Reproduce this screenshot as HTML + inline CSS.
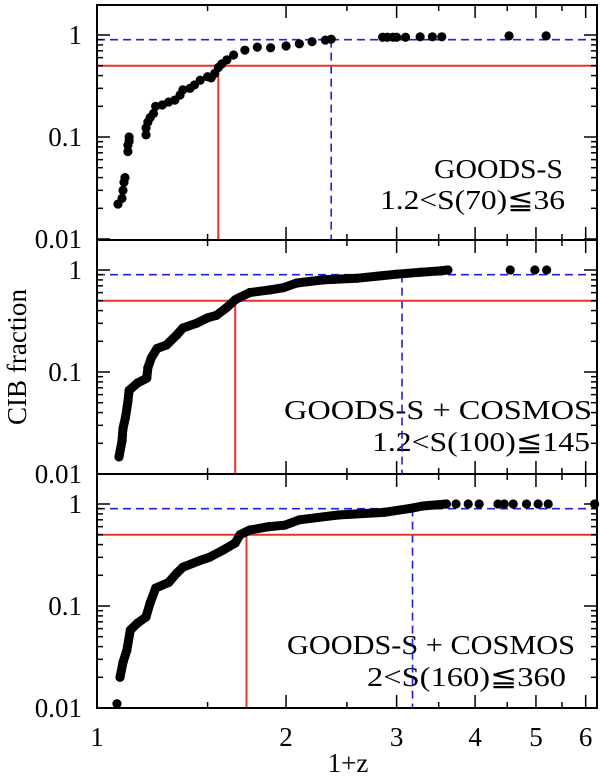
<!DOCTYPE html>
<html><head><meta charset="utf-8"><style>
html,body{margin:0;padding:0;background:#fff;}
svg{display:block;}
text{font-family:"Liberation Serif","DejaVu Serif",serif;fill:#000;}
</style></head><body>
<svg id="chart" width="600" height="776" viewBox="0 0 600 776" xmlns="http://www.w3.org/2000/svg"></svg>
<script>
// ---- data ----
const p1CurveX = [1.08,1.096,1.10,1.104,1.108,1.12,1.12,1.125,1.125,1.197,1.197,1.205,1.215,1.23,1.24,1.27,1.30,1.33,1.356,1.37,1.406,1.43,1.46,1.50,1.52,1.54,1.56,1.58,1.61,1.65,1.72,1.80,1.89,2.0,2.10,2.20,2.31,2.36];
const p1CurveY = [0.022,0.025,0.030,0.036,0.040,0.072,0.083,0.091,0.100,0.105,0.123,0.140,0.155,0.170,0.200,0.206,0.220,0.230,0.258,0.290,0.300,0.324,0.360,0.390,0.380,0.420,0.480,0.520,0.570,0.637,0.710,0.760,0.750,0.780,0.820,0.860,0.890,0.910];
const p1DotsX = [2.85,2.90,2.96,3.0,3.10,3.27,3.42,3.54,4.53,5.19];
const p1DotsY = [0.95,0.95,0.95,0.95,0.95,0.96,0.96,0.96,0.98,0.98];

const p2CurveX = [1.084,1.096,1.10,1.11,1.12,1.125,1.16,1.20,1.205,1.22,1.246,1.29,1.34,1.37,1.44,1.50,1.55,1.61,1.66,1.69,1.75,1.89,1.98,2.08,2.29,2.59,3.0,3.27,3.52,3.62];
const p2CurveY = [0.0147,0.021,0.028,0.036,0.051,0.066,0.078,0.087,0.110,0.137,0.170,0.184,0.231,0.270,0.300,0.340,0.360,0.430,0.510,0.540,0.600,0.640,0.670,0.745,0.800,0.830,0.910,0.950,0.980,1.0];
const p2DotsX = [4.55,4.98,5.20];
const p2DotsY = [1.0,1.0,1.0];

const p3CurveX = [1.088,1.10,1.116,1.13,1.16,1.197,1.215,1.24,1.30,1.34,1.37,1.46,1.51,1.59,1.66,1.69,1.75,1.88,1.99,2.10,2.42,2.87,3.17,3.30,3.60];
const p3CurveY = [0.020,0.028,0.037,0.058,0.068,0.078,0.107,0.150,0.170,0.210,0.240,0.280,0.300,0.355,0.415,0.500,0.555,0.600,0.620,0.700,0.780,0.830,0.910,0.955,1.0];
const p3DotsX = [1.076,3.73,3.90,4.06,4.35,4.45,4.60,4.83,5.04,5.23,6.20];
const p3DotsY = [0.011,1.0,1.0,1.0,1.0,1.0,1.0,1.0,1.0,1.0,1.0];

const medianX = [1.56,1.66,1.73];
const ninetyX = [2.36,3.06,3.18];
const xTickLabels = ["1","2","3","4","5","6"];
const yTickLabels = ["0.01","0.1","1"];

// ---- layout ----
const NS = "http://www.w3.org/2000/svg";
const svg = document.getElementById('chart');
const L = 97, R = 597, XDEC = 628, YDEC = 102;
const tops = [5,240,474];
const bottoms = [240,474,708];
function xs(v){ return L + XDEC*Math.log10(v); }
function ys(v,p){ return tops[p] + 30 - YDEC*Math.log10(v); }
function mk(tag, attrs, parent){
  const e = document.createElementNS(NS, tag);
  for (const k in attrs) e.setAttribute(k, attrs[k]);
  (parent||svg).appendChild(e);
  return e;
}
const panels = [
  {cx:p1CurveX, cy:p1CurveY, dx:p1DotsX, dy:p1DotsY, line:false,
   t1:"GOODS-S", t1x:[434,563], t1y:178, t2:"1.2<S(70)≦36", t2x:[380,565], t2y:209},
  {cx:p2CurveX, cy:p2CurveY, dx:p2DotsX, dy:p2DotsY, line:true,
   t1:"GOODS-S + COSMOS", t1x:[284,592], t1y:419, t2:"1.2<S(100)≦145", t2x:[372,590], t2y:451},
  {cx:p3CurveX, cy:p3CurveY, dx:p3DotsX, dy:p3DotsY, line:true,
   t1:"GOODS-S + COSMOS", t1x:[287,575], t1y:654, t2:"2<S(160)≦360", t2x:[367,566], t2y:686}
];

panels.forEach((P, p) => {
  const g = mk('g', {});
  
  
  const top = tops[p], bot = bottoms[p];
  [[P.t1,P.t1x,P.t1y],[P.t2,P.t2x,P.t2y]].forEach((t,i)=>{
    const tx = mk('text', {x:t[1][0], y:t[2], 'font-size':27, textLength:t[1][1]-t[1][0], lengthAdjust:'spacingAndGlyphs'}, g);
    tx.textContent = t[0];
    
    
  });
  const y90 = ys(0.9,p), y50 = ys(0.5,p);
  const bh = mk('line', {x1:L, x2:R, y1:y90, y2:y90, stroke:'#1f1fe0', 'stroke-width':1.6, 'stroke-dasharray':'8,5'}, g);
  
  
  const bv = mk('line', {x1:xs(ninetyX[p]), x2:xs(ninetyX[p]), y1:y90, y2:bot, stroke:'#1f1fe0', 'stroke-width':1.6, 'stroke-dasharray':'8,5'}, g);
  
  
  const rh = mk('line', {x1:L, x2:R, y1:y50, y2:y50, stroke:'#e8322a', 'stroke-width':2}, g);
  
  
  const rv = mk('line', {x1:xs(medianX[p]), x2:xs(medianX[p]), y1:y50, y2:bot, stroke:'#e8322a', 'stroke-width':2}, g);
  
  
  if (P.line){
    const pts = P.cx.map((v,i)=> xs(v).toFixed(1)+','+ys(P.cy[i],p).toFixed(1)).join(' ');
    const pl = mk('polyline', {points:pts, fill:'none', stroke:'#000', 'stroke-width':9, 'stroke-linejoin':'round', 'stroke-linecap':'round'}, g);
    
    
  }
  P.cx.forEach((v,i)=>{
    const c = mk('circle', {cx:xs(v), cy:ys(P.cy[i],p), r:4.6, fill:'#000'}, g);
    
    
  });
  P.dx.forEach((v,i)=>{
    const c = mk('circle', {cx:xs(v), cy:ys(P.dy[i],p), r:4.6, fill:'#000'}, g);
    
    
  });
  const fr = mk('rect', {x:L, y:top, width:R-L, height:bot-top, fill:'none', stroke:'#000', 'stroke-width':2}, g);
  
  
  for (let v=1; v<=6.2; v+=0.5){
    const major = Math.abs(v-Math.round(v))<1e-6;
    const len = major ? 13 : 6;
    const x = xs(v);
    mk('line', {x1:x, x2:x, y1:bot, y2:bot-len, stroke:'#000', 'stroke-width':1.5}, g);
    mk('line', {x1:x, x2:x, y1:top, y2:top+len, stroke:'#000', 'stroke-width':1.5}, g);
  }
  for (let d=-2; d<=0; d++){
    for (let m=1; m<=9; m++){
      const v = m*Math.pow(10,d);
      if (d===0 && m>1) break;
      const y = ys(v,p);
      const len = m===1 ? 13 : 6;
      mk('line', {x1:L, x2:L+len, y1:y, y2:y, stroke:'#000', 'stroke-width':1.5}, g);
      mk('line', {x1:R, x2:R-len, y1:y, y2:y, stroke:'#000', 'stroke-width':1.5}, g);
    }
  }
  yTickLabels.forEach((lab,i)=>{
    const v = Math.pow(10, i-2);
    const t = mk('text', {x:82, y:ys(v,p)+9, 'font-size':27, 'text-anchor':'end'}, g);
    t.textContent = lab;
    
    
  });
});

xTickLabels.forEach((lab)=>{
  const t = mk('text', {x:xs(parseFloat(lab)), y:746, 'font-size':27, 'text-anchor':'middle'});
  t.textContent = lab;
  
  
});
const xt = mk('text', {x:348, y:772, 'font-size':27, 'text-anchor':'middle'});
xt.textContent = '1+z';


const yt = mk('text', {x:0, y:0, 'font-size':27, 'text-anchor':'middle', textLength:136, lengthAdjust:'spacingAndGlyphs', transform:'translate(26,357) rotate(-90)'});
yt.textContent = 'CIB fraction';


</script>
</body></html>
